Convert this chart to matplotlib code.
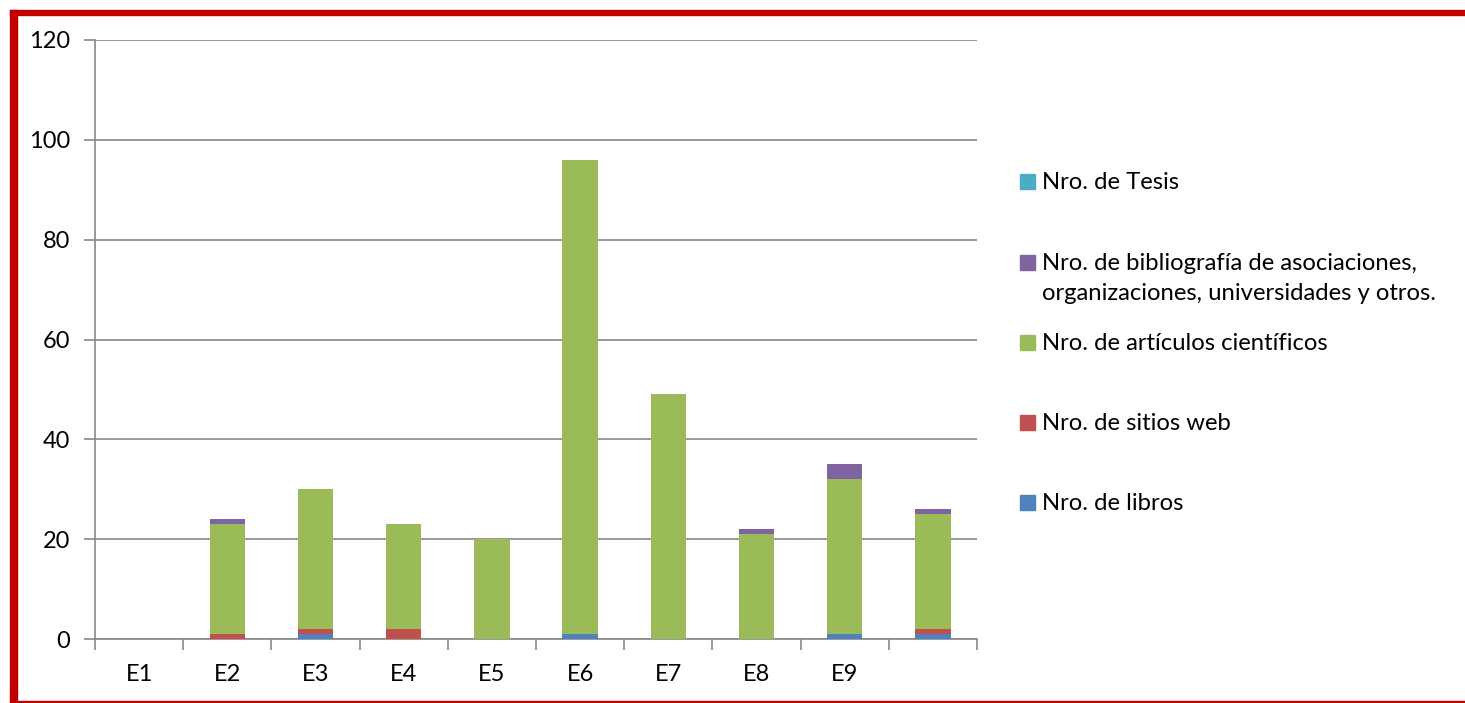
import matplotlib
matplotlib.use("Agg")
import matplotlib.pyplot as plt
from matplotlib.patches import Rectangle
import numpy as np

plt.rcParams['font.family'] = ['Lato', 'DejaVu Sans']

categories = ["E1", "E2", "E3", "E4", "E5", "E6", "E7", "E8", "E9", ""]
libros = [0, 0, 1, 0, 0, 1, 0, 0, 1, 1]
sitios_web = [0, 1, 1, 2, 0, 0, 0, 0, 0, 1]
articulos = [0, 22, 28, 21, 20, 95, 49, 21, 31, 23]
bibliografia = [0, 1, 0, 0, 0, 0, 0, 1, 3, 1]
tesis = [0, 0, 0, 0, 0, 0, 0, 0, 0, 0]

series = [
    ("Nro. de libros", libros, "#4F81BD"),
    ("Nro. de sitios web", sitios_web, "#C0504D"),
    ("Nro. de artículos científicos", articulos, "#9BBB59"),
    ("Nro. de bibliografía de asociaciones,\norganizaciones, universidades y otros.", bibliografia, "#8064A2"),
    ("Nro. de Tesis", tesis, "#4BACC6"),
]

W, H = 1465, 703
fig = plt.figure(figsize=(W / 100, H / 100), dpi=100)
ax = fig.add_axes([95 / W, (H - 639) / H, 882 / W, 599 / H])

x = np.arange(len(categories))
bottom = np.zeros(len(categories))
for name, vals, color in series:
    vals = np.array(vals, dtype=float)
    ax.bar(x, vals, width=0.4, bottom=bottom, color=color,
           edgecolor="none", zorder=3)
    bottom += vals

ax.set_xlim(-0.5, len(categories) - 0.5)
ax.set_ylim(0, 120)
ax.set_yticks(np.arange(0, 121, 20))
ax.yaxis.grid(True, color="#888888", linewidth=1.2, zorder=0)
ax.set_axisbelow(True)

ax.set_xticks(x)
ax.set_xticklabels(categories, fontsize=17)
ax.set_xticks(np.arange(-0.5, len(categories)), minor=True)
ax.tick_params(axis="x", which="major", length=0, pad=18)
ax.tick_params(axis="x", which="minor", length=8, width=1.2, color="#888888", direction="out")
ax.tick_params(axis="y", length=8, width=1.2, color="#888888", pad=10, labelsize=17)

for side in ["top", "right"]:
    ax.spines[side].set_visible(False)
for side in ["left", "bottom"]:
    ax.spines[side].set_color("#888888")
    ax.spines[side].set_linewidth(1.2)

# Legend, top entry first (reverse stacking order); baselines in pixels
order = [4, 3, 2, 1, 0]
baselines = [189, 270, 350, 430, 510]
line_step = 30
for idx, base in zip(order, baselines):
    name, _, color = series[idx]
    fig.patches.append(Rectangle((1020 / W, 1 - base / H), 15 / W, 15 / H,
                                 transform=fig.transFigure, color=color))
    for k, line in enumerate(name.split("\n")):
        fig.text(1042 / W, 1 - (base + k * line_step) / H, line, fontsize=17.2,
                 va="baseline", ha="left")

# Red frame
red = "#C00000"
fig.patches.append(Rectangle((10 / W, 1 - 15 / H), (W - 10) / W, 5 / H,
                             transform=fig.transFigure, color=red))
fig.patches.append(Rectangle((10 / W, 0), 7 / W, (H - 10) / H,
                             transform=fig.transFigure, color=red))
fig.patches.append(Rectangle((10 / W, 0), (W - 10) / W, 2.5 / H,
                             transform=fig.transFigure, color=red))

fig.savefig("out.png", dpi=100)
